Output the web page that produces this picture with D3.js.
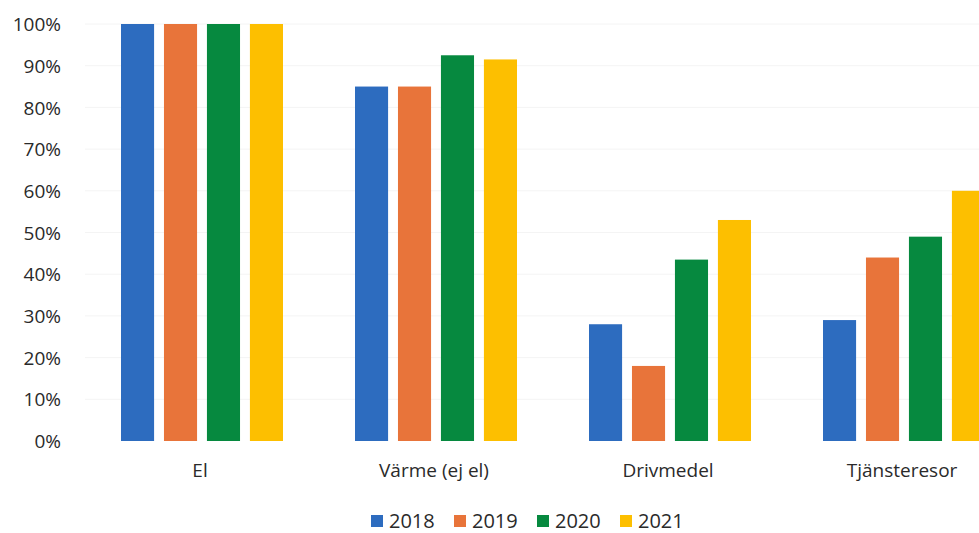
<!DOCTYPE html>
<html>
<head>
<meta charset="utf-8">
<script src="https://cdn.jsdelivr.net/npm/d3@7"></script>
<style>
  body { margin: 0; background: #fff; }
  svg { display: block; }
  text { font-family: "Open Sans", Lato, sans-serif; fill: #2a2a2a; }
</style>
</head>
<body>
<div class="container_main"></div>
<script>
// data
const categories = ["El", "Värme (ej el)", "Drivmedel", "Tjänsteresor"];
const years = ["2018", "2019", "2020", "2021"];
const v2018 = [100, 85, 28, 29];
const v2019 = [100, 85, 18, 44];
const v2020 = [100, 92.5, 43.5, 49];
const v2021 = [100, 91.5, 53, 60];
const yTicks = [0, 10, 20, 30, 40, 50, 60, 70, 80, 90, 100];

const colors = ["#2d6cbf", "#e8743a", "#06893f", "#fdbf00"];
const series = [v2018, v2019, v2020, v2021];

svgwidth = 979;
svgheight = 533;
margin = {top: 24, right: 0, bottom: 92, left: 85};
myheight = svgheight - margin.top - margin.bottom;

svg = d3.select('.container_main')
  .append("svg")
  .attr("width", svgwidth)
  .attr("height", svgheight);

g = svg.append("g")
  .attr("transform", "translate(" + margin.left + "," + margin.top + ")");

// plot runs a little past the right edge, as in the picture
posX = d3.scaleBand()
  .domain(categories)
  .range([0, 936])
  .paddingInner(0)
  .paddingOuter(0);
subX = d3.scaleBand()
  .domain(years)
  .range([0, 162])
  .paddingInner(0.23);
posY = d3.scaleLinear()
  .domain([0, 100])
  .range([myheight, 0]);

// faint gridlines (mostly washed out in the scan)
g.selectAll(".grid")
  .data(yTicks.filter(d => d > 0))
  .enter().append("line")
  .attr("class", "grid")
  .attr("x1", 0).attr("x2", 936)
  .attr("y1", d => posY(d)).attr("y2", d => posY(d))
  .attr("stroke", "#f4f4f4")
  .attr("stroke-width", 1);

// y axis labels
yAxis = g.append("g")
  .attr("class", "axis axis--y")
  .attr("transform", "translate(-24,0)")
  .call(d3.axisLeft(posY).tickValues(yTicks).tickFormat(d => d + "%").tickSize(0).tickPadding(0));
yAxis.select(".domain").remove();
yAxis.selectAll("text")
  .style("font-size", "19px")
  .style("fill", "#2a2a2a")
  .attr("dy", "0.35em");

// bars
const groups = g.selectAll(".cat")
  .data(categories)
  .enter().append("g")
  .attr("class", "cat")
  .attr("transform", d => "translate(" + (posX(d) + posX.bandwidth() / 2 - 81) + ",0)");

groups.selectAll("rect")
  .data((d, i) => years.map((y, k) => ({year: y, k: k, value: series[k][i]})))
  .enter().append("rect")
  .attr("x", d => subX(d.year))
  .attr("width", subX.bandwidth())
  .attr("y", d => posY(d.value))
  .attr("height", d => myheight - posY(d.value))
  .attr("fill", d => colors[d.k]);

// x axis labels
xAxis = g.append("g")
  .attr("class", "axis axis--x")
  .attr("transform", "translate(0," + myheight + ")")
  .call(d3.axisBottom(posX).tickSize(0).tickPadding(23));
xAxis.select(".domain").remove();
xAxis.selectAll("text")
  .style("font-size", "19px")
  .style("fill", "#2a2a2a")
  .attr("dx", "-2px");

// legend
legendX = d3.scaleBand()
  .domain(years)
  .range([371, 703]);
legend = svg.append("g").attr("class", "legend");
items = legend.selectAll("g")
  .data(years)
  .enter().append("g")
  .attr("transform", d => "translate(" + legendX(d) + ",515)");
items.append("rect")
  .attr("width", 12).attr("height", 12)
  .attr("fill", (d, i) => colors[i]);
items.append("text")
  .attr("x", 18).attr("y", 6)
  .attr("dy", "0.35em")
  .style("font-size", "20px")
  .text(d => d);
</script>
</body>
</html>
